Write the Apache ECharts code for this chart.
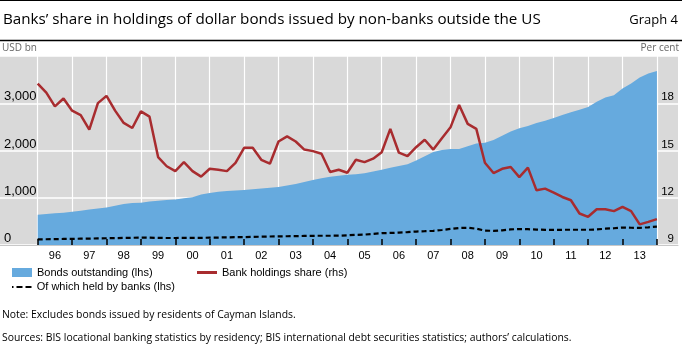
<!DOCTYPE html>
<html><head><meta charset="utf-8">
<script src="https://cdn.jsdelivr.net/npm/echarts@6/dist/echarts.min.js"></script>
<style>html,body{margin:0;padding:0;background:#fff}#c{width:682px;height:353px}</style>
</head><body><div id="c"></div>
<script>
// Quarterly observations, first point at start of 1996, last at start of 2014
const startYear = 1996;
const bondsOutstanding = [640,655,670,685,705,725,750,775,795,830,870,890,895,920,935,950,965,990,1010,1070,1100,1125,1145,1155,1165,1180,1195,1210,1230,1260,1290,1335,1375,1415,1445,1465,1485,1500,1520,1555,1590,1635,1670,1710,1790,1880,1970,2010,2030,2030,2090,2150,2165,2220,2310,2400,2470,2520,2580,2630,2690,2750,2810,2860,2920,3030,3120,3171,3313,3420,3545,3630,3684];
const heldByBanks = [120,122,125,128,130,133,136,140,143,146,150,153,156,155,150,148,148,150,150,152,155,158,162,165,168,172,176,180,183,185,188,192,195,196,196,197,205,215,220,235,250,255,262,272,285,292,300,318,340,360,365,345,305,300,310,330,338,335,325,322,322,322,323,323,322,330,345,355,370,365,362,375,390];
const bankShare = [19.25,18.68,17.80,18.30,17.53,17.25,16.33,18.01,18.47,17.53,16.75,16.43,17.48,17.15,14.58,14.00,13.69,14.26,13.69,13.34,13.84,13.78,13.69,14.22,15.17,15.17,14.41,14.16,15.57,15.90,15.57,15.06,14.96,14.79,13.63,13.78,13.59,14.41,14.26,14.48,14.89,16.37,14.86,14.64,15.21,15.68,15.06,15.78,16.47,17.89,16.69,16.37,14.22,13.57,13.84,13.95,13.31,13.91,12.47,12.58,12.33,12.05,11.84,11.00,10.79,11.27,11.27,11.15,11.42,11.15,10.31,10.47,10.64];
const yearBoundaries = [1996,1997,1998,1999,2000,2001,2002,2003,2004,2005,2006,2007,2008,2009,2010,2011,2012,2013,2014];
const yearLabelPositions = [1996.5,1997.5,1998.5,1999.5,2000.5,2001.5,2002.5,2003.5,2004.5,2005.5,2006.5,2007.5,2008.5,2009.5,2010.5,2011.5,2012.5,2013.5];
const yearLabels = ['96','97','98','99','00','01','02','03','04','05','06','07','08','09','10','11','12','13'];
const leftTickLabels = {0:'0',1000:'1,000',2000:'2,000',3000:'3,000'};
const rightTickLabels = {9:'9',12:'12',15:'15',18:'18'};
const names = ['Bonds outstanding (lhs)','Of which held by banks (lhs)','Bank holdings share (rhs)'];

const xs = bondsOutstanding.map((_, i) => startYear + i / 4);
const pair = arr => arr.map((v, i) => [xs[i], v]);

const BLUE = '#66aade', RED = '#a82c2f';
const sans = 'Liberation Sans';
const titleFont = 'Open Sans';
const legendText = {fontFamily: sans, fontSize: 11, color: '#000', lineHeight: 12};

const chart = echarts.init(document.getElementById('c'), null, {renderer: 'canvas'});
chart.setOption({
  animation: false,
  backgroundColor: '#fff',
  title: [
    {text: 'Banks\u2019 share in holdings of dollar bonds issued by non-banks outside the US', left: 3, top: 12, padding: 0,
     textStyle: {fontFamily: titleFont, fontSize: 15.2, fontWeight: 'normal', color: '#000'}},
    {text: 'Graph 4', right: 4, top: 14, padding: 0,
     textStyle: {fontFamily: titleFont, fontSize: 13, fontWeight: 'normal', color: '#000'}},
    {text: 'USD bn', left: 2, top: 43, padding: 0,
     textStyle: {fontFamily: titleFont, fontSize: 10, fontWeight: 'normal', color: '#666'}},
    {text: 'Per cent', right: 3, top: 43, padding: 0,
     textStyle: {fontFamily: titleFont, fontSize: 10, fontWeight: 'normal', color: '#666'}},
    {text: 'Note: Excludes bonds issued by residents of Cayman Islands.', left: 2, top: 310, padding: 0,
     textStyle: {fontFamily: titleFont, fontSize: 10.4, fontWeight: 'normal', color: '#000'}},
    {text: 'Sources: BIS locational banking statistics by residency; BIS international debt securities statistics; authors\u2019 calculations.', left: 2, top: 333, padding: 0,
     textStyle: {fontFamily: titleFont, fontSize: 10.4, fontWeight: 'normal', color: '#000'}}
  ],
  graphic: [
    {type: 'line', shape: {x1: 0, y1: 0.5, x2: 682, y2: 0.5}, style: {stroke: '#000', lineWidth: 1}},
    {type: 'line', shape: {x1: 0, y1: 40.5, x2: 682, y2: 40.5}, style: {stroke: '#000', lineWidth: 1.5}}
  ],
  legend: [
    {left: 12, top: 266.5, itemWidth: 20, itemHeight: 9, padding: 0,
     data: [{name: names[0], icon: 'rect'}], textStyle: legendText},
    {left: 12, top: 281, itemWidth: 20, itemHeight: 2, padding: 0,
     data: [{name: names[1], icon: 'path://M0,0h1.5v2h-1.5z M4.5,0h6v2h-6z M13.5,0h6v2h-6z'}], textStyle: legendText},
    {left: 197, top: 266.5, itemWidth: 20, itemHeight: 3, padding: 0,
     data: [{name: names[2], icon: 'rect'}], textStyle: legendText}
  ],
  grid: {left: 0, right: 4, top: 56, bottom: 108, show: true, backgroundColor: '#d9d9d9', borderWidth: 0},
  xAxis: [
    {type: 'value', min: 1994.904, max: 2014.613, position: 'bottom',
     axisLine: {show: true, lineStyle: {color: '#c8c8c8', width: 1}},
     axisTick: {show: false, customValues: yearBoundaries},
     splitLine: {show: true, lineStyle: {color: '#fff', width: 1.2}},
     axisLabel: {customValues: yearLabelPositions, margin: 5, fontFamily: sans, fontSize: 11, color: '#000',
       formatter: v => yearLabels[yearLabelPositions.indexOf(v)]}},
    {type: 'value', min: 1994.904, max: 2014.613, position: 'bottom', z: 10,
     axisLine: {show: false}, axisLabel: {show: false}, splitLine: {show: false},
     axisTick: {show: true, inside: true, length: 6, customValues: yearBoundaries, lineStyle: {color: '#000', width: 1.5}}}
  ],
  yAxis: [
    {type: 'value', min: 0, max: 4000, interval: 1000, position: 'left',
     axisLine: {show: false}, axisTick: {show: false},
     splitLine: {show: true, lineStyle: {color: '#fff', width: 1.5}},
     axisLabel: {inside: true, margin: 4, verticalAlign: 'bottom', fontFamily: sans, fontSize: 13, color: '#000',
       formatter: v => leftTickLabels[v] || ''}},
    {type: 'value', min: 9, max: 21, interval: 3, position: 'right',
     axisLine: {show: false}, axisTick: {show: false}, splitLine: {show: false},
     axisLabel: {inside: true, margin: 4, verticalAlign: 'bottom', fontFamily: sans, fontSize: 11.5, color: '#000',
       formatter: v => rightTickLabels[v] || ''}}
  ],
  series: [
    {name: names[0], type: 'line', xAxisIndex: 0, yAxisIndex: 0, data: pair(bondsOutstanding),
     symbol: 'none', lineStyle: {width: 0, color: BLUE}, itemStyle: {color: BLUE},
     areaStyle: {color: BLUE, opacity: 1}, z: 2},
    {name: names[1], type: 'line', xAxisIndex: 0, yAxisIndex: 0, data: pair(heldByBanks),
     symbol: 'none', lineStyle: {width: 2.2, color: '#000', type: [5, 3]}, itemStyle: {color: '#000'}, z: 4},
    {name: names[2], type: 'line', xAxisIndex: 0, yAxisIndex: 1, data: pair(bankShare),
     symbol: 'none', lineStyle: {width: 2.5, color: RED}, itemStyle: {color: RED}, z: 3}
  ]
});
</script></body></html>
